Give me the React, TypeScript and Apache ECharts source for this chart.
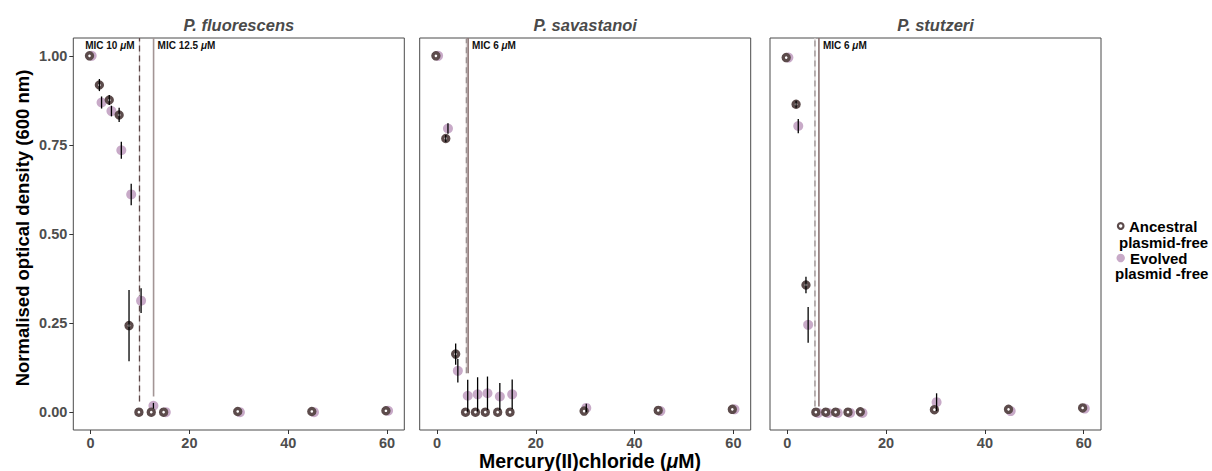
import React, { useEffect, useRef } from "react";
import * as echarts from "echarts";

// ---------------- data ----------------
const concentrations = [0, 2, 4, 6, 8, 10, 12.5, 15, 30, 45, 60];
const panelTitles = ["P. fluorescens", "P. savastanoi", "P. stutzeri"];
const xTicks = [0, 20, 40, 60];
const yTicks = [0, 0.25, 0.5, 0.75, 1];

const ancestralMean = [
  [1.0, 0.918, 0.876, 0.834, 0.243, 0.0, 0.0, 0.0, 0.002, 0.002, 0.004],
  [1.0, 0.768, 0.163, 0.0, 0.0, 0.0, 0.0, 0.0, 0.003, 0.005, 0.008],
  [0.995, 0.864, 0.357, 0.0, 0.0, 0.0, 0.0, 0.001, 0.007, 0.008, 0.012],
];
const ancestralErr = [
  [0, 0.017, 0.014, 0.02, 0.1, 0, 0, 0, 0, 0, 0],
  [0, 0.01, 0.03, 0, 0, 0, 0, 0, 0, 0, 0],
  [0, 0.01, 0.023, 0, 0, 0, 0, 0, 0, 0, 0],
];
const evolvedMean = [
  [1.0, 0.869, 0.845, 0.735, 0.611, 0.313, 0.018, 0.0, 0.0, 0.0, 0.004],
  [1.0, 0.796, 0.116, 0.046, 0.05, 0.053, 0.044, 0.05, 0.012, 0.003, 0.008],
  [0.995, 0.803, 0.245, -0.002, -0.002, -0.002, -0.002, -0.002, 0.028, 0.003, 0.01],
];
const evolvedErr = [
  [0, 0.017, 0.015, 0.024, 0.03, 0.035, 0.008, 0, 0, 0, 0],
  [0, 0.015, 0.033, 0.045, 0.048, 0.047, 0.038, 0.042, 0.012, 0, 0],
  [0, 0.02, 0.05, 0, 0, 0, 0, 0, 0.025, 0, 0],
];
// MIC reference lines (ancestral = dashed, evolved = solid)
const micAncestralX = [9.9, 5.95, 5.6];
const micEvolvedX = [12.75, 6.3, 6.4];
const micAncestralBottom = [0.03, 0.109, 0.016];
const micEvolvedBottom = [0.044, 0.109, 0.016];
const micAncestralLabel = ["MIC 10", "", ""];
const micEvolvedLabel = ["MIC 12.5", "MIC 6", "MIC 6"];

// ---------------- styles ----------------
const FONT = "'Liberation Sans', Arial, Helvetica, sans-serif";
const ANC_COLOR = "#5c4b4b";
const EVO_COLOR = "#c8aac8";
const DODGE = 0.22;
const gridLefts = [73.3, 419.7, 770];
const GRID_TOP = 38;
const GRID_W = 331;
const GRID_H = 392;
const X_MIN = -3.5;
const X_MAX = 63.5;
const Y_MIN = -0.05;
const Y_MAX = 1.05;
const dashedColors = ["#5e4848", "#9b9292", "#9b9292"];
const solidColors = ["#a39595", "#8a7373", "#8a7373"];

function buildOption() {
  const grid: any[] = [];
  const xAxis: any[] = [];
  const yAxis: any[] = [];
  const series: any[] = [];
  const graphic: any[] = [];

  for (let p = 0; p < 3; p++) {
    grid.push({
      left: gridLefts[p],
      top: GRID_TOP,
      width: GRID_W,
      height: GRID_H,
      show: true,
      borderColor: "#4a4a4a",
      borderWidth: 1,
      backgroundColor: "#fff",
    });
    xAxis.push({
      type: "value",
      gridIndex: p,
      min: X_MIN,
      max: X_MAX,
      position: "bottom",
      axisLine: { show: false, onZero: false },
      splitLine: { show: false },
      axisTick: {
        show: true,
        customValues: xTicks,
        length: 4,
        lineStyle: { color: "#333" },
      },
      axisLabel: {
        show: true,
        customValues: xTicks,
        color: "#4d4d4d",
        fontWeight: "bold",
        fontSize: 14.5,
        fontFamily: FONT,
        margin: 5,
      },
    });
    yAxis.push({
      type: "value",
      gridIndex: p,
      min: Y_MIN,
      max: Y_MAX,
      position: "left",
      axisLine: { show: false, onZero: false },
      splitLine: { show: false },
      axisTick: {
        show: p === 0,
        customValues: yTicks,
        length: 4,
        lineStyle: { color: "#333" },
      },
      axisLabel: {
        show: p === 0,
        customValues: yTicks,
        formatter: (v: number) => v.toFixed(2),
        color: "#4d4d4d",
        fontWeight: "bold",
        fontSize: 14.5,
        fontFamily: FONT,
        margin: 6,
      },
    });

    // MIC lines
    const lines = [
      [micAncestralX[p], micAncestralBottom[p], Y_MAX, 1],
      [micEvolvedX[p], micEvolvedBottom[p], Y_MAX, 0],
    ];
    series.push({
      type: "custom",
      xAxisIndex: p,
      yAxisIndex: p,
      z: 1,
      silent: true,
      data: lines,
      renderItem: (params: any, api: any) => {
        const a = api.coord([api.value(0), api.value(1)]);
        const b = api.coord([api.value(0), api.value(2)]);
        const dashed = api.value(3) === 1;
        if (dashed) {
          return {
            type: "group",
            children: [
              {
                type: "line",
                shape: { x1: a[0], y1: a[1], x2: b[0], y2: b[1] },
                style: { stroke: "#dcd6d6", lineWidth: 1.2 },
              },
              {
                type: "line",
                shape: { x1: a[0], y1: a[1], x2: b[0], y2: b[1] },
                style: {
                  stroke: dashedColors[p],
                  lineWidth: 1.3,
                  lineDash: [6, 4],
                },
              },
            ],
          };
        }
        return {
          type: "line",
          shape: { x1: a[0], y1: a[1], x2: b[0], y2: b[1] },
          style: { stroke: solidColors[p], lineWidth: 1.6 },
        };
      },
    });

    // MIC labels
    const labels: any[] = [];
    if (micAncestralLabel[p]) labels.push([micAncestralX[p], 1.03, -1, micAncestralLabel[p]]);
    if (micEvolvedLabel[p]) labels.push([micEvolvedX[p], 1.03, 1, micEvolvedLabel[p]]);
    series.push({
      type: "custom",
      xAxisIndex: p,
      yAxisIndex: p,
      z: 6,
      silent: true,
      data: labels,
      renderItem: (params: any, api: any) => {
        const pt = api.coord([api.value(0), api.value(1)]);
        const side = api.value(2);
        const idx = params.dataIndex;
        const txt = labels[idx][3];
        return {
          type: "text",
          x: pt[0] + (side < 0 ? -5 : 4),
          y: pt[1],
          style: {
            text: "{a|" + txt + " }{i|μ}{a|M}",
            align: side < 0 ? "right" : "left",
            verticalAlign: "middle",
            textAlign: side < 0 ? "right" : "left",
            textVerticalAlign: "middle",
            rich: {
              a: { fontSize: 10, fontWeight: "bold", fontFamily: FONT, fill: "#111", color: "#111" },
              i: { fontSize: 10, fontWeight: "bold", fontStyle: "italic", fontFamily: FONT, fill: "#111", color: "#111" },
            },
          },
        };
      },
    });

    // Evolved points
    series.push({
      type: "scatter",
      xAxisIndex: p,
      yAxisIndex: p,
      z: 2,
      silent: true,
      symbol: "circle",
      symbolSize: 10,
      itemStyle: { color: EVO_COLOR, opacity: 1 },
      data: concentrations.map((c, i) => [c + DODGE, evolvedMean[p][i]]),
    });
    // Ancestral points
    series.push({
      type: "scatter",
      xAxisIndex: p,
      yAxisIndex: p,
      z: 3,
      silent: true,
      symbol: "circle",
      symbolSize: 6,
      itemStyle: {
        color: "#ffffff",
        borderColor: ANC_COLOR,
        borderWidth: 3.4,
        opacity: 1,
      },
      data: concentrations.map((c, i) => [c - DODGE, ancestralMean[p][i]]),
    });

    // Error bars
    const errData: any[] = [];
    concentrations.forEach((c, i) => {
      const ea = ancestralErr[p][i];
      if (ea > 0) errData.push([c - DODGE, ancestralMean[p][i] - ea, ancestralMean[p][i] + ea]);
      const ee = evolvedErr[p][i];
      if (ee > 0) errData.push([c + DODGE, evolvedMean[p][i] - ee, evolvedMean[p][i] + ee]);
    });
    series.push({
      type: "custom",
      xAxisIndex: p,
      yAxisIndex: p,
      z: 5,
      silent: true,
      data: errData,
      renderItem: (params: any, api: any) => {
        const lo = api.coord([api.value(0), api.value(1)]);
        const hi = api.coord([api.value(0), api.value(2)]);
        return {
          type: "line",
          shape: { x1: lo[0], y1: lo[1], x2: hi[0], y2: hi[1] },
          style: { stroke: "#000", lineWidth: 1.3 },
        };
      },
    });

    // Panel title
    graphic.push({
      type: "text",
      x: gridLefts[p] + GRID_W / 2,
      y: 25,
      style: {
        text: panelTitles[p],
        fill: "#4a4a4a",
        font: `italic bold 16.5px ${FONT}`,
        textAlign: "center",
        textVerticalAlign: "middle",
        align: "center",
        verticalAlign: "middle",
      },
    });
  }

  // Y axis title
  graphic.push({
    type: "text",
    x: 22.5,
    y: 228,
    rotation: Math.PI / 2,
    style: {
      text: "Normalised optical density (600 nm)",
      fill: "#000",
      font: `bold 18.5px ${FONT}`,
      textAlign: "center",
      textVerticalAlign: "middle",
      align: "center",
      verticalAlign: "middle",
    },
  });
  // X axis title
  graphic.push({
    type: "text",
    x: 590,
    y: 461,
    style: {
      text: "{a|Mercury(II)chloride (}{i|μ}{a|M)}",
      textAlign: "center",
      textVerticalAlign: "middle",
      align: "center",
      verticalAlign: "middle",
      rich: {
        a: { fontSize: 19.5, fontWeight: "bold", fontFamily: FONT, fill: "#000", color: "#000" },
        i: { fontSize: 19.5, fontWeight: "bold", fontStyle: "italic", fontFamily: FONT, fill: "#000", color: "#000" },
      },
    },
  });

  // Legend
  graphic.push({
    type: "circle",
    shape: { cx: 1120.7, cy: 226, r: 2.8 },
    style: { fill: "#fff", stroke: ANC_COLOR, lineWidth: 2.2 },
  });
  graphic.push({
    type: "circle",
    shape: { cx: 1120.7, cy: 258, r: 4.2 },
    style: { fill: EVO_COLOR },
  });
  const legendTexts = [
    ["Ancestral", 1129, 226],
    ["plasmid-free", 1119, 242],
    ["Evolved", 1130, 258.5],
    ["plasmid -free", 1115, 273.5],
  ];
  legendTexts.forEach(([t, x, y]) => {
    graphic.push({
      type: "text",
      x,
      y,
      style: {
        text: t,
        fill: "#000",
        font: `bold 15px ${FONT}`,
        textAlign: "left",
        textVerticalAlign: "middle",
        align: "left",
        verticalAlign: "middle",
      },
    });
  });

  return {
    animation: false,
    backgroundColor: "#ffffff",
    textStyle: { fontFamily: FONT },
    grid,
    xAxis,
    yAxis,
    series,
    graphic,
  };
}

export default function App() {
  const ref = useRef<HTMLDivElement>(null);
  useEffect(() => {
    if (!ref.current) return;
    const chart = echarts.init(ref.current, undefined, { renderer: "svg" });
    chart.setOption(buildOption() as any);
    return () => chart.dispose();
  }, []);
  return (
    <div
      ref={ref}
      style={{ position: "absolute", left: 0, top: 0, width: 1212, height: 471, background: "#fff" }}
    />
  );
}
